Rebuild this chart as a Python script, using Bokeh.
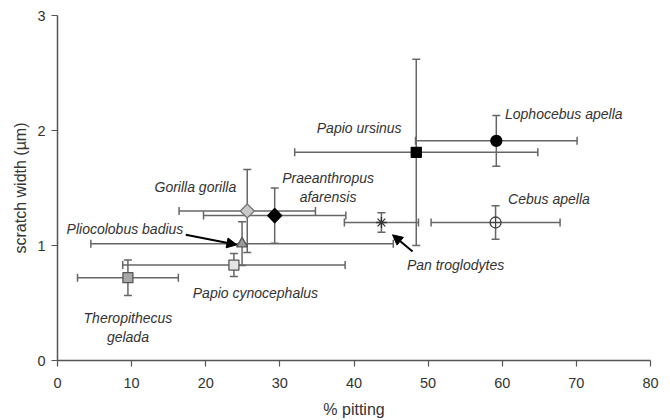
import math
from bokeh.plotting import figure
from bokeh.models import (ColumnDataSource, Whisker, TeeHead, Arrow, NormalHead,
                          Range1d, FixedTicker)
from bokeh.core.properties import value
from bokeh.embed import file_html
from bokeh.resources import INLINE

# ---- data ----
species = ["Theropithecus gelada", "Papio cynocephalus", "Pliocolobus badius",
           "Gorilla gorilla", "Praeanthropus afarensis", "Pan troglodytes",
           "Papio ursinus", "Lophocebus apella", "Cebus apella"]
pitting = [9.5, 23.8, 24.9, 25.6, 29.3, 43.7, 48.4, 59.2, 59.1]
pitting_err = [6.8, 15.0, 20.4, 9.2, 9.6, 5.0, 16.4, 10.9, 8.7]
scratch = [0.72, 0.83, 1.016, 1.30, 1.26, 1.20, 1.81, 1.91, 1.20]
scratch_err = [0.155, 0.10, 0.19, 0.36, 0.24, 0.085, 0.81, 0.22, 0.145]

x_ticks = [0, 10, 20, 30, 40, 50, 60, 70, 80]
y_ticks = [0, 1, 2, 3]

# species labels (text lines) and their anchor positions in data units
label_text = ["Lophocebus apella", "Papio ursinus", "Cebus apella", "Praeanthropus",
              "afarensis", "Gorilla gorilla", "Pliocolobus badius", "Papio cynocephalus",
              "Theropithecus", "gelada", "Pan troglodytes"]
label_x = [68.3, 40.7, 66.3, 36.5, 36.5, 18.6, 9.1, 26.7, 9.5, 9.5, 53.7]
label_y = [2.14, 2.02, 1.405, 1.585, 1.425, 1.51, 1.145, 0.59, 0.373, 0.208, 0.83]

# arrows: (x_start, y_start, x_end, y_end)
arrows = [(17.3, 1.093, 24.2, 1.006), (47.9, 0.948, 45.2, 1.093)]

# ---- styles ----
markers = ["square", "square", "triangle", "square", "square", "asterisk",
           "square", "circle", "circle_cross"]
angles = [0, 0, 0, math.pi / 4, math.pi / 4, 0, 0, 0, 0]
sizes = [10, 10, 11, 10, 10, 11, 10, 11, 11]
fills = ["#a8a8a8", "#e4e4e4", "#9a9a9a", "#c8c8c8", "#000000", "#555555",
         "#000000", "#000000", "#ffffff"]
lines = ["#555555", "#555555", "#555555", "#777777", "#000000", "#333333",
         "#000000", "#000000", "#444444"]

src = ColumnDataSource(dict(
    x=pitting, y=scratch,
    xl=[a - b for a, b in zip(pitting, pitting_err)],
    xu=[a + b for a, b in zip(pitting, pitting_err)],
    yl=[a - b for a, b in zip(scratch, scratch_err)],
    yu=[a + b for a, b in zip(scratch, scratch_err)],
    marker=markers, angle=angles, size=sizes, fill=fills, line=lines,
))

p = figure(width=670, height=420, output_backend="svg", toolbar_location=None,
           x_range=Range1d(0, 80), y_range=Range1d(0, 3),
           min_border_left=57, min_border_right=20, min_border_top=15,
           min_border_bottom=59)
p.outline_line_color = None
p.xgrid.grid_line_color = None
p.ygrid.grid_line_color = None
p.background_fill_color = "white"
p.border_fill_color = "white"

FONT = "Liberation Sans"
for ax in (p.xaxis[0], p.yaxis[0]):
    ax.axis_line_color = "#555555"
    ax.axis_line_width = 1.5
    ax.major_tick_line_color = "#555555"
    ax.major_tick_line_width = 1.2
    ax.major_tick_in = 0
    ax.major_tick_out = 6
    ax.minor_tick_line_color = None
    ax.major_label_text_font = FONT
    ax.major_label_text_font_size = "14.5px"
    ax.major_label_text_color = "#333333"
    ax.axis_label_text_font = FONT
    ax.axis_label_text_font_size = "16px"
    ax.axis_label_text_font_style = "normal"
    ax.axis_label_text_color = "#333333"

p.xaxis[0].ticker = FixedTicker(ticks=x_ticks)
p.yaxis[0].ticker = FixedTicker(ticks=y_ticks)
p.xaxis[0].axis_label = "% pitting"
p.yaxis[0].axis_label = "scratch width (µm)"
p.xaxis[0].major_label_standoff = 11
p.xaxis[0].axis_label_standoff = 10
p.yaxis[0].major_label_standoff = 6
p.yaxis[0].axis_label_standoff = 5

# error bars
ebc = "#666666"
p.add_layout(Whisker(source=src, base="y", lower="xl", upper="xu", dimension="width",
                     line_color=ebc, line_width=1.5,
                     lower_head=TeeHead(size=8, line_color=ebc, line_width=1.5),
                     upper_head=TeeHead(size=8, line_color=ebc, line_width=1.5)))
p.add_layout(Whisker(source=src, base="x", lower="yl", upper="yu", dimension="height",
                     line_color=ebc, line_width=1.5,
                     lower_head=TeeHead(size=8, line_color=ebc, line_width=1.5),
                     upper_head=TeeHead(size=8, line_color=ebc, line_width=1.5)))

# markers
p.scatter("x", "y", source=src, marker="marker", size="size", angle="angle",
          fill_color="fill", line_color="line", line_width=1.3)

# labels
p.text(x=label_x, y=label_y, text=label_text, text_font=value(FONT),
       text_font_style="italic", text_font_size="14px", text_color="#333333",
       text_align="center", text_baseline="middle")

for xs, ys, xe, ye in arrows:
    p.add_layout(Arrow(x_start=xs, y_start=ys, x_end=xe, y_end=ye,
                       line_color="black", line_width=2,
                       end=NormalHead(size=10, fill_color="black", line_color="black")))

open("out.html", "w").write(file_html(p, INLINE))
